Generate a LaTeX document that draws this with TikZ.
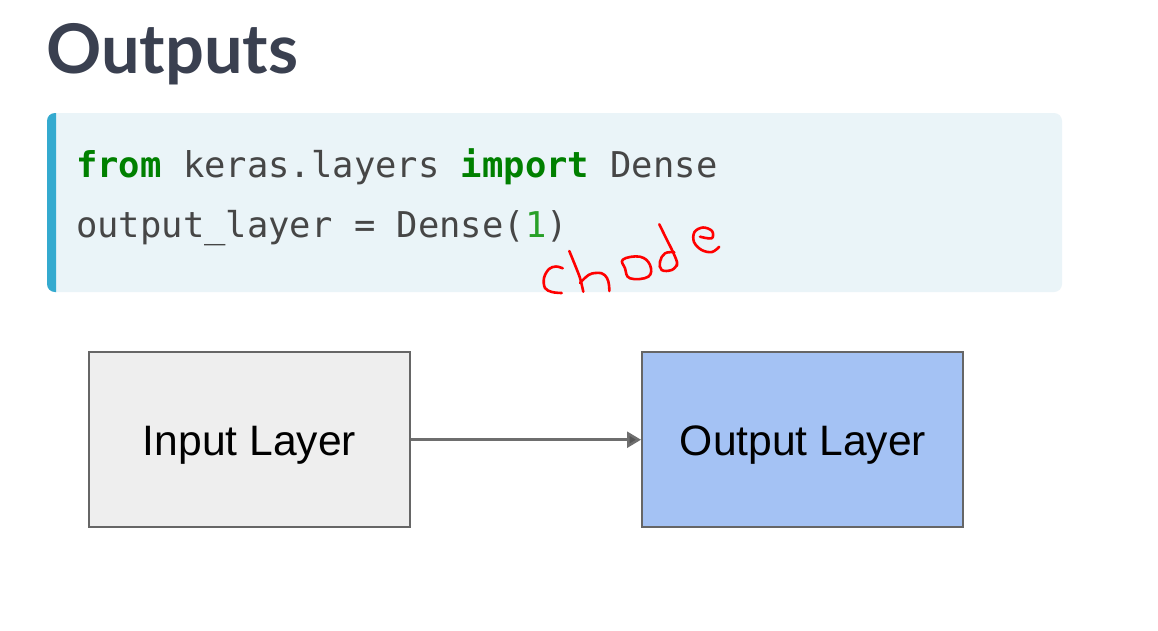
\documentclass[tikz,border=0pt]{standalone}
\usepackage{fontspec}
\usetikzlibrary{arrows.meta}
\newfontfamily\latofont{Lato}
\newfontfamily\codefont{DejaVu Sans Mono}
\newfontfamily\diafont{Liberation Sans}
\definecolor{titlecol}{RGB}{58,64,80}
\definecolor{codebg}{RGB}{234,244,248}
\definecolor{codebar}{RGB}{52,170,207}
\definecolor{codetxt}{RGB}{70,70,70}
\definecolor{kwgreen}{RGB}{0,128,0}
\definecolor{numgreen}{RGB}{40,160,40}
\definecolor{inbox}{RGB}{238,238,238}
\definecolor{outbox}{RGB}{164,194,244}
\definecolor{edgecol}{RGB}{102,102,102}
\definecolor{arrowcol}{RGB}{110,110,110}
\definecolor{headcol}{RGB}{85,85,85}
\definecolor{inkred}{RGB}{255,0,0}
\tikzset{
  layerbox/.style={draw=edgecol, line width=2pt, minimum width=321pt, minimum height=175pt, inner sep=0pt},
  layertext/.style={font=\diafont\fontsize{42.6}{42.6}\selectfont, inner sep=0pt, anchor=base, text=black},
  codeline/.style={font=\codefont\fontsize{35.5}{35.5}\selectfont, inner sep=0pt, anchor=base west, text=codetxt},
  ink/.style={draw=inkred, line width=2.6pt, line cap=round, line join=round}
}
\begin{document}
\begin{tikzpicture}[x=1pt,y=-1pt]
\useasboundingbox[fill=white] (0,0) rectangle (1158,630);
% title
\node[font=\latofont\bfseries\fontsize{68.5}{68.5}\selectfont, text=titlecol, inner sep=0pt, anchor=base west] (title) at (46,73) {Outputs};
% code block
\fill[codebg, rounded corners=8pt] (47,113) rectangle (1062,292);
\begin{scope}
\clip (47,113) rectangle (56,292);
\fill[codebar, rounded corners=8pt] (47,113) rectangle (70,292);
\end{scope}
\node[codeline] (code1) at (76,177) {\textcolor{kwgreen}{\bfseries from} keras.layers \textcolor{kwgreen}{\bfseries import} Dense};
\node[codeline] (code2) at (76,237) {output\_layer = Dense(\textcolor{numgreen}{1})};
% handwritten "chode"
\draw[ink] plot[smooth, tension=0.6] coordinates {(562.7,268.3) (556,266.5) (549,269) (544,278) (545,288) (552,292) (561.7,293)};
\draw[ink] plot[smooth, tension=0.5] coordinates {(569.3,251) (575,265) (580,278) (583.3,291.7)};
\draw[ink] plot[smooth, tension=0.6] coordinates {(580,283) (586,277) (592,273.5) (601.7,273.3) (607,278) (609,285) (609.3,291)};
\draw[ink] plot[smooth cycle, tension=0.7] coordinates {(623,259.5) (640,256.7) (650,265) (648.3,276.7) (630,278.3) (625,268.3)};
\draw[ink] plot[smooth, tension=0.5] coordinates {(659.3,224.3) (666,238) (673,252) (677,262) (676.7,266)};
\draw[ink] plot[smooth, tension=0.7] coordinates {(674.3,252.3) (665,253.3) (660,261.7) (661.7,270) (671.7,270) (676.7,265)};
\draw[ink] plot[smooth, tension=0.6] coordinates {(700,236.7) (711.7,238.3) (712,231) (703,227.5) (694.5,232) (694,242) (701.7,250) (712,252) (719.3,246.7)};
% diagram
\node[layerbox, fill=inbox] (input) at (249.2,439.7) {};
\node[layertext] (inlabel) at (249.5,455) {Input Layer};
\node[layerbox, fill=outbox] (output) at (802.5,439.7) {};
\node[layertext] (outlabel) at (803,455) {Output Layer};
\draw[draw=arrowcol, line width=2.5pt, -{Triangle[length=14pt,width=16pt,fill=headcol]}] (input.east) -- (output.west);
\end{tikzpicture}
\end{document}
